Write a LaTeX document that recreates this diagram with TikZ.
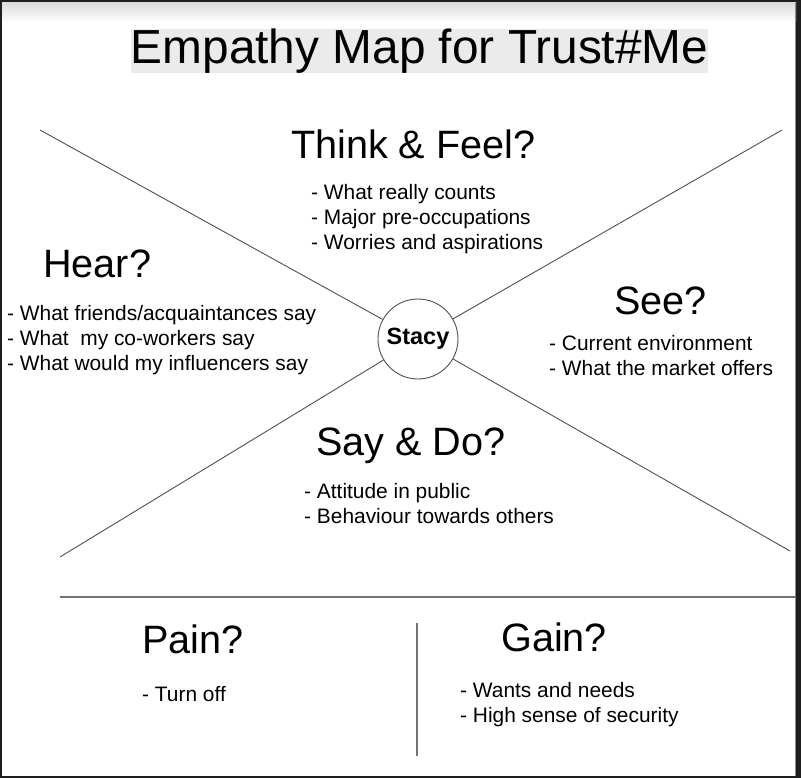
\documentclass[tikz,border=0pt]{standalone}
\usepackage{fontspec}
\setmainfont{Liberation Sans}
\usetikzlibrary{positioning}
\definecolor{emframe}{RGB}{30,30,30}
\definecolor{emtitle}{RGB}{235,235,235}
\definecolor{emline}{RGB}{80,80,80}
\tikzset{
  heading/.style={anchor=base west, inner sep=0pt, font=\fontsize{39.6}{45}\selectfont},
  bullet/.style={anchor=base west, inner sep=0pt, font=\fontsize{20.9}{25}\selectfont},
  spoke/.style={emline, line width=0.9pt},
  divider/.style={black!55, line width=1.2pt}
}

\begin{document}
\begin{tikzpicture}[x=1pt, y=-1pt]
\useasboundingbox (0,0) rectangle (801,778);
% Window frame
\fill[emframe] (0,0) rectangle (801,778);
\fill[white] (2,3) rectangle (796,776);
\shade[top color=black!14, bottom color=white] (2,3) rectangle (796,22);
\draw[black!45, line width=1pt] (795.5,3) -- (795.5,776);
% Title
\node[fill=emtitle, minimum width=577pt, minimum height=44pt, inner sep=0pt,
      font=\fontsize{47.8}{50}\selectfont] (title) at (419.5,51) {Empathy Map for Trust\#Me};
% Centre and the four spokes
\node[circle, draw=emline, line width=0.9pt, minimum size=80pt, inner sep=0pt,
      font=\bfseries\fontsize{23.5}{27}\selectfont] (stacy) at (418,339) {Stacy};
\coordinate (tl) at (40,130);
\coordinate (tr) at (782,130);
\coordinate (bl) at (60,557);
\coordinate (br) at (790,551);
\foreach \c in {tl, tr, bl, br}
  \draw[spoke] (\c) -- (stacy);
% Think & Feel
\node[heading] (think) at (291,159) {Think \& Feel?};
\foreach \t [count=\i] in {What really counts, Major pre-occupations, Worries and aspirations}
  \node[bullet] (think\i) at (311,175+25*\i) {- \t};
% Hear
\node[heading] (hear) at (43,278) {Hear?};
\foreach \t [count=\i] in {What friends/acquaintances say, What\ \ my co-workers say, What would my influencers say}
  \node[bullet] (hear\i) at (7,295+25*\i) {- \t};
% See
\node[heading] (see) at (614,315) {See?};
\foreach \t [count=\i] in {Current environment, What the market offers}
  \node[bullet] (see\i) at (549,325+25*\i) {- \t};
% Say & Do
\node[heading] (say) at (316,455) {Say \& Do?};
\foreach \t [count=\i] in {Attitude in public, Behaviour towards others}
  \node[bullet] (say\i) at (304,473+25*\i) {- \t};
% Pain and gain
\coordinate (hl) at (60,597);
\coordinate (hr) at (796,597);
\coordinate (vt) at (417,623);
\coordinate (vb) at (417,756);
\draw[divider] (hl) -- (hr);
\draw[divider] (vt) -- (vb);
\node[heading] (pain) at (142,653) {Pain?};
\node[bullet] (pain1) at (142,701) {- Turn off};
\node[heading] (gain) at (501,651) {Gain?};
\foreach \t [count=\i] in {Wants and needs, High sense of security}
  \node[bullet] (gain\i) at (460,672+25*\i) {- \t};
\end{tikzpicture}
\end{document}
